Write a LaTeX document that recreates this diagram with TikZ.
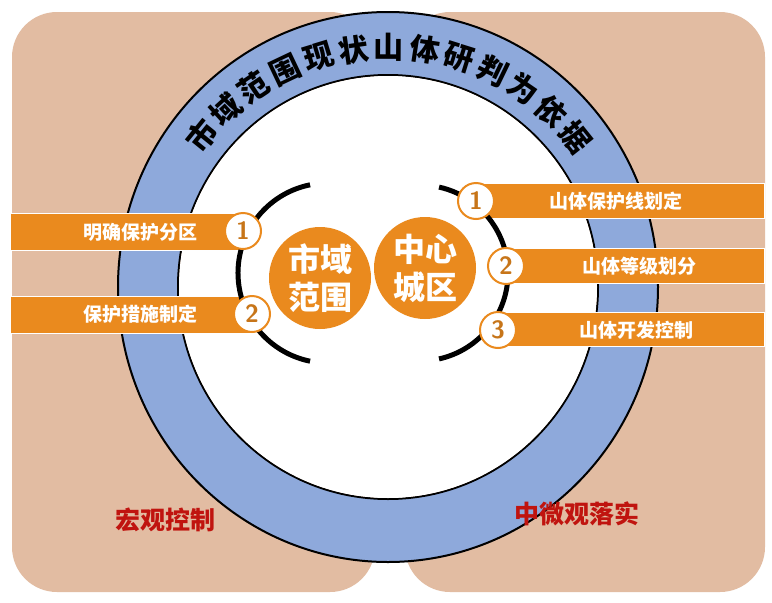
\documentclass[tikz,border=0pt]{standalone}
\usepackage{fontspec}
\usetikzlibrary{calc}
\newfontfamily\cjk{Noto Sans CJK SC}
\definecolor{tan}{HTML}{E2BCA2}
\definecolor{ringblue}{HTML}{8EA9DB}
\definecolor{orng}{HTML}{EA8A1E}
\definecolor{redt}{HTML}{C0140F}
\begin{document}
\begin{tikzpicture}[x=1pt,y=-1pt,
  panel/.style={fill=tan,rounded corners=45pt},
  bar/.style={fill=orng,draw=white,line width=1pt},
  bartext/.style={text=white,font=\cjk\bfseries\fontsize{19}{19}\selectfont},
  num/.style={circle,fill=white,draw=orng,line width=2pt,minimum size=36pt,inner sep=0pt,text=orng!85!black,font=\sffamily\bfseries\fontsize{25}{25}\selectfont},
  big/.style={circle,fill=orng,minimum size=102pt,inner sep=0pt,align=center,text=white,font=\cjk\bfseries\fontsize{32}{38}\selectfont},
  arcline/.style={line width=5pt,black},
  ringchar/.style={font=\cjk\bfseries\fontsize{30}{30}\selectfont,inner sep=0pt},
  redlabel/.style={text=redt,font=\cjk\bfseries\fontsize{25}{25}\selectfont}]
\useasboundingbox (0,0) rectangle (772,603);
\fill[white] (0,0) rectangle (772,603);
\path[panel] (12,12) rectangle (375,592);
\path[panel] (405,12) rectangle (765,592);
\coordinate (c) at (388,287);
\filldraw[fill=ringblue,draw=black,line width=2pt,even odd rule] (c) ellipse [x radius=270,y radius=275] (c) ellipse [x radius=210,y radius=212];
\fill[white] (c) ellipse [x radius=209,y radius=211];
\foreach \ch [count=\i from 0] in {市,域,范,围,现,状,山,体,研,判,为,依,据}{
  \pgfmathsetmacro\ang{141-\i*8.54}
  \node[ringchar,rotate=\ang-90] (r\i) at ($(c)+({240*cos(\ang)},{-240*sin(\ang)})$) {\ch};
}
% bars
\path[bar] (10,213) rectangle (245,250);
\node[bartext] (t1) at (140,232) {明确保护分区};
\path[bar] (10,296) rectangle (250,333);
\node[bartext] (t2) at (140,314) {保护措施制定};
\path[bar] (476,183) rectangle (764,218);
\node[bartext] (t3) at (616,201) {山体保护线划定};
\path[bar] (506,248) rectangle (764,283);
\node[bartext] (t4) at (639,266) {山体等级划分};
\path[bar] (498,312) rectangle (764,346);
\node[bartext] (t5) at (636,330) {山体开发控制};
% arcs
\coordinate (lc) at (328,273);
\coordinate (rc) at (420,273);
\draw[arcline] ($(lc)+(258.5:90)$) arc[start angle=258.5,end angle=101.5,radius=90];
\draw[arcline] ($(rc)+(-77.5:88)$) arc[start angle=-77.5,end angle=77.5,radius=88];
\node[big] (a) at (320,278) {市域\\范围};
\node[big] (b) at (425,268) {中心\\城区};
\node[num] (n1) at (243,231) {1};
\node[num] (n2) at (252,314) {2};
\node[num] (n3) at (476,201) {1};
\node[num] (n4) at (506,266) {2};
\node[num] (n5) at (498,330) {3};
\node[redlabel] (m1) at (165,520) {宏观控制};
\node[redlabel] (m2) at (577,514) {中微观落实};
\end{tikzpicture}
\end{document}
